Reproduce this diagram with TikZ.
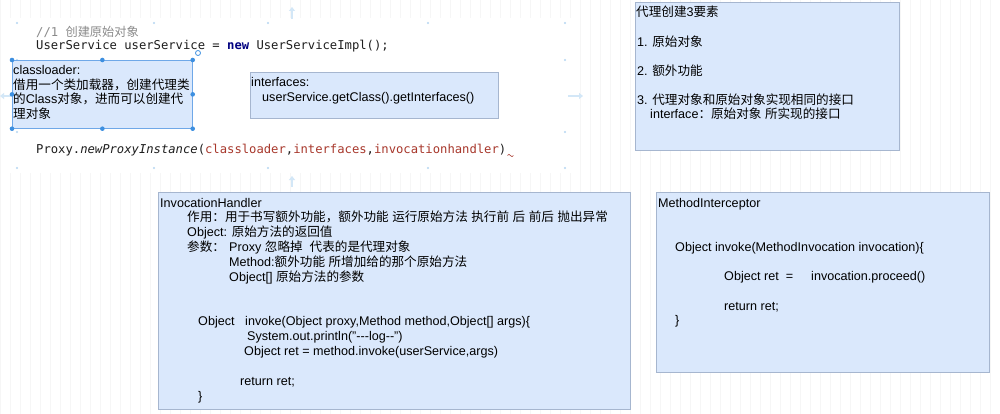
\documentclass[tikz,border=0pt]{standalone}
\usepackage{fontspec}
\setmainfont[Ligatures=NoCommon]{Liberation Sans}
\newfontfamily\zhfont{Noto Sans CJK SC}
\newfontfamily\codefont{DejaVu Sans Mono}
\newcommand\zh[1]{{\zhfont #1}}
\usetikzlibrary{arrows.meta}
\definecolor{boxfill}{HTML}{DAE8FC}
\definecolor{boxline}{HTML}{A6B6CF}
\definecolor{selline}{HTML}{6FA8E8}
\definecolor{handle}{HTML}{3D8FE0}
\definecolor{gridc}{HTML}{F6F6F6}
\definecolor{hover}{HTML}{D3E7F7}
\definecolor{codeblack}{HTML}{1E1E1E}
\definecolor{codegray}{HTML}{8A8A8A}
\definecolor{codenavy}{HTML}{000080}
\definecolor{codered}{HTML}{A8382C}
\definecolor{textc}{HTML}{000000}
\begin{document}
\begin{tikzpicture}[x=1pt,y=-1pt,
  box/.style={draw=boxline, fill=boxfill, line width=0.7pt, anchor=north west, inner sep=0pt},
  selbox/.style={box, draw=selline},
  txt/.style={anchor=base west, inner sep=0pt, text=textc, font=\fontsize{12.6}{15}\selectfont},
  code/.style={anchor=base west, inner sep=0pt, text=codeblack, font=\codefont\fontsize{12.2}{14}\selectfont},
  hdot/.style={fill=handle},
  gdot/.style={fill=hover!80!handle},
  hoverarrow/.style={draw=hover, line width=2pt, -{Triangle[width=6pt,length=4pt]}}
]
\useasboundingbox (0,0) rectangle (1000,414);
\fill[white] (0,0) rectangle (1000,414);
\draw[gridc, line width=0.5pt, step=10] (0,0) grid (1000,414);

% code area
\fill[white] (5,18) rectangle (579,173);
\foreach \x in {17,154,268,428,565} {
  \fill[gdot] (\x,23) circle (1.1);
  \fill[gdot] (\x,168) circle (1.1);
}
\foreach \y in {60,132} {
  \fill[gdot] (17,\y) circle (1.1);
  \fill[gdot] (565,\y) circle (1.1);
}
\coordinate (hT1) at (292,19); \coordinate (hT2) at (292,7);
\coordinate (hB1) at (292,176); \coordinate (hB2) at (292,187);
\coordinate (hR1) at (568,96); \coordinate (hR2) at (583,96);
\coordinate (hL1) at (11,96); \coordinate (hL2) at (0,96);
\draw[hoverarrow] (hT1) -- (hT2);
\draw[hoverarrow] (hB2) -- (hB1);
\draw[hoverarrow] (hR1) -- (hR2);
\draw[hoverarrow] (hL1) -- (hL2);

\node[code, text=codegray] (c1) at (36,36.5) {//1 {\zhfont\fontsize{12.2}{14}\selectfont 创建原始对象}};
\node[code] (c2) at (36,50) {UserService userService = \textcolor{codenavy}{\bfseries new} UserServiceImpl();};
\node[code] (c3) at (36,153.5) {Proxy.{\itshape newProxyInstance}(\textcolor{codered}{classloader},\textcolor{codered}{interfaces},\textcolor{codered}{invocationhandler})};
\draw[codered, line width=0.6pt] (c3.base east) ++(1,2) .. controls +(1,-1.5) and +(-1,-1.5) .. ++(3,0) .. controls +(1,1.5) and +(-1,1.5) .. ++(3,0);

% classloader box (selected)
\node[selbox, minimum width=180, minimum height=68] (clbox) at (12,60) {};
\foreach \a in {north west,north,north east,west,east,south west,south,south east}
  \fill[hdot] (clbox.\a) circle (2.3);
\draw[handle, line width=0.8pt] (198,53) circle (2.5);
\node[txt] (cl1) at (13,75) {classloader:};
\node[txt] (cl2) at (13,89.5) {\zh{借用一个类加载器，创建代理类}};
\node[txt] (cl3) at (13,104) {\zh{的}Class\zh{对象，进而可以创建代}};
\node[txt] (cl4) at (13,118.5) {\zh{理对象}};

% interfaces box
\node[box, minimum width=248, minimum height=46.5] (ifbox) at (250,71.8) {};
\node[txt] (if1) at (251,87) {interfaces:};
\node[txt] (if2) at (262,101.5) {userService.getClass().getInterfaces()};

% 3 elements box
\node[box, minimum width=264, minimum height=148] (elbox) at (635,2) {};
\node[txt] (el1) at (636,17) {\zh{代理创建}3\zh{要素}};
\node[txt] (el2) at (637,46.5) {1. \zh{原始对象}};
\node[txt] (el3) at (637,75.5) {2. \zh{额外功能}};
\node[txt] (el4) at (637,104.5) {3. \zh{代理对象和原始对象实现相同的接口}};
\node[txt] (el5) at (650,119) {interface\zh{：原始对象} \zh{所实现的接口}};

% InvocationHandler box
\node[box, minimum width=472, minimum height=217] (ihbox) at (158,192) {};
\node[txt] (ih1) at (160,207) {InvocationHandler};
\node[txt] (ih2) at (187,221.85) {\zh{作用：用于书写额外功能，额外功能} \zh{运行原始方法} \zh{执行前} \zh{后} \zh{前后} \zh{抛出异常}};
\node[txt] (ih3) at (187,236.7) {Object: \zh{原始方法的返回值}};
\node[txt] (ih4) at (187,251.55) {\zh{参数：}};
\node[txt] (ih4b) at (229,251.55) {Proxy \zh{忽略掉}\ \ \zh{代表的是代理对象}};
\node[txt] (ih5) at (229,266.4) {Method:\zh{额外功能} \zh{所增加给的那个原始方法}};
\node[txt] (ih6) at (229,281.25) {Object[] \zh{原始方法的参数}};
\node[txt] (ih7) at (198,325.8) {Object};
\node[txt] (ih7b) at (245,325.8) {invoke(Object proxy,Method method,Object[] args)\{};
\node[txt] (ih8) at (247,340.65) {System.out.println("-{}-{}-log-{}-")};
\node[txt] (ih9) at (244,355.5) {Object ret = method.invoke(userService,args)};
\node[txt] (ih10) at (240,385.2) {return ret;};
\node[txt] (ih11) at (198,400) {\}};

% MethodInterceptor box
\node[box, minimum width=333, minimum height=180] (mibox) at (656,192) {};
\node[txt] (mi1) at (658,207) {MethodInterceptor};
\node[txt] (mi2) at (675,251) {Object invoke(MethodInvocation invocation)\{};
\node[txt] (mi3) at (724,280.5) {Object ret \ =};
\node[txt] (mi3b) at (811,280.5) {invocation.proceed()};
\node[txt] (mi4) at (724,310) {return ret;};
\node[txt] (mi5) at (675,324.6) {\}};
\end{tikzpicture}
\end{document}
